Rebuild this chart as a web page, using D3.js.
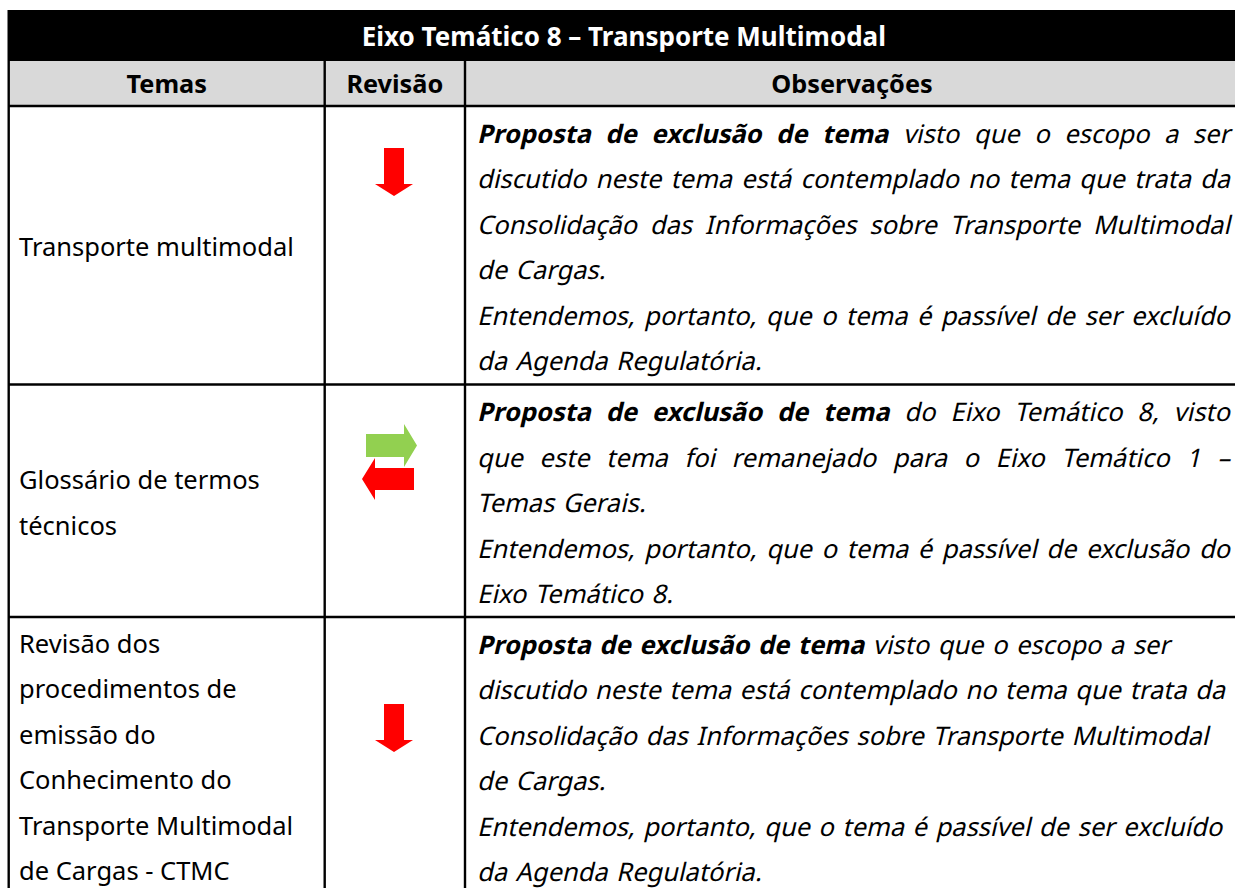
<!DOCTYPE html>
<html><head><meta charset="utf-8">
<script src="https://cdn.jsdelivr.net/npm/d3@7"></script>
<style>body{margin:0;background:#fff}svg{display:block}</style>
</head><body>
<script>
// ---------- data ----------
const title = "Eixo Temático 8 – Transporte Multimodal";
const headers = ["Temas", "Revisão", "Observações"];
const temas = [
  ["Transporte multimodal"],
  ["Glossário de termos", "técnicos"],
  ["Revisão dos", "procedimentos de", "emissão do", "Conhecimento do", "Transporte Multimodal", "de Cargas - CTMC"]
];
const revisao = ["down", "swap", "down"];
const justified = [true, true, false];
const observacoes = [
  [
    ["**Proposta de exclusão de tema** visto que o escopo a ser",
     "discutido neste tema está contemplado no tema que trata da",
     "Consolidação das Informações sobre Transporte Multimodal",
     "de Cargas."],
    ["Entendemos, portanto, que o tema é passível de ser excluído",
     "da Agenda Regulatória."]
  ],
  [
    ["**Proposta de exclusão de tema** do Eixo Temático 8, visto",
     "que este tema foi remanejado para o Eixo Temático 1 –",
     "Temas Gerais."],
    ["Entendemos, portanto, que o tema é passível de exclusão do",
     "Eixo Temático 8."]
  ],
  [
    ["**Proposta de exclusão de tema** visto que o escopo a ser",
     "discutido neste tema está contemplado no tema que trata da",
     "Consolidação das Informações sobre Transporte Multimodal",
     "de Cargas."],
    ["Entendemos, portanto, que o tema é passível de ser excluído",
     "da Agenda Regulatória."]
  ]
];

// ---------- layout ----------
const W = 1235, H = 888;
const FONT = "'Noto Sans', 'Open Sans', sans-serif";
const FS = 25.5, FS_TITLE = 26, FS_HDR = 25.3;
const LINE = 45.5;
const colEdges = [8.7, 324.7, 465, 1239];
const titleTop = 10, headTop = 61, bodyTop = 106;
const rowEdges = [106, 384.5, 617, 894];
const obsLeft = 477, obsRight = 1230;
const stroke = 2.4;
const extraSpace = 1.9;

const svg = d3.select("body").append("svg").attr("width", W).attr("height", H)
  .style("font-family", FONT);

const colScale = d3.scaleOrdinal().domain(headers).range(colEdges.slice(0, 3));
const colEnd = d3.scaleOrdinal().domain(headers).range(colEdges.slice(1));
const rowTop = d3.scaleOrdinal().domain(d3.range(3)).range(rowEdges.slice(0, 3));
const rowBot = d3.scaleOrdinal().domain(d3.range(3)).range(rowEdges.slice(1));
const lineY = d3.scaleLinear().domain([0, 1]).range([0, LINE]);

// backgrounds
svg.append("rect").attr("x", colEdges[0]).attr("y", titleTop)
  .attr("width", W - colEdges[0]).attr("height", headTop - titleTop).attr("fill", "#000");
svg.append("rect").attr("x", colEdges[0]).attr("y", headTop)
  .attr("width", W - colEdges[0]).attr("height", bodyTop - headTop).attr("fill", "#d9d9d9");

// title
svg.append("text").attr("x", (colEdges[0] + colEdges[3]) / 2).attr("y", 45.5)
  .attr("text-anchor", "middle").attr("fill", "#fff").attr("font-weight", "bold")
  .attr("font-size", FS_TITLE).text(title);

// headers
svg.selectAll("text.hdr").data(headers).join("text").attr("class", "hdr")
  .attr("x", d => (colScale(d) + colEnd(d)) / 2).attr("y", 93)
  .attr("text-anchor", "middle").attr("font-weight", "bold").attr("font-size", FS_HDR)
  .attr("fill", "#000").text(d => d);

// grid lines
const g = svg.append("g").attr("stroke", "#000").attr("stroke-width", stroke);
g.append("line").attr("x1", colEdges[0]).attr("x2", colEdges[0]).attr("y1", titleTop).attr("y2", H);
[colEdges[1], colEdges[2]].forEach(x =>
  g.append("line").attr("x1", x).attr("x2", x).attr("y1", headTop).attr("y2", H));
rowEdges.forEach(y =>
  g.append("line").attr("x1", colEdges[0]).attr("x2", W).attr("y1", y).attr("y2", y));

// temas
temas.forEach((lines, r) => {
  const c = (rowTop(r) + rowBot(r)) / 2;
  const y0 = c + 11 - (lines.length - 1) * LINE / 2;
  lines.forEach((t, i) => {
    svg.append("text").attr("x", 19).attr("y", y0 + lineY(i))
      .attr("font-size", FS).attr("fill", "#000").text(t);
  });
});

// observações
function parse(line) {
  const segs = [];
  const re = /\*\*(.+?)\*\*/g;
  let last = 0, m;
  while ((m = re.exec(line))) {
    if (m.index > last) segs.push({ t: line.slice(last, m.index), b: false });
    segs.push({ t: m[1], b: true });
    last = re.lastIndex;
  }
  if (last < line.length) segs.push({ t: line.slice(last), b: false });
  return segs;
}
observacoes.forEach((paras, r) => {
  let li = 0;
  paras.forEach(para => {
    para.forEach((line, k) => {
      const y = rowTop(r) + 36.5 + lineY(li);
      const txt = svg.append("text")
        .attr("transform", `translate(${obsLeft},${y}) skewX(-13)`)
        .attr("x", 0).attr("y", 0).attr("font-size", FS).attr("fill", "#000")
        .attr("xml:space", "preserve");
      parse(line).forEach(s => {
        txt.append("tspan").attr("font-weight", s.b ? "bold" : "normal").text(s.t);
      });
      const isLast = k === para.length - 1;
      if (justified[r] && !isLast) {
        const L = txt.node().getComputedTextLength();
        const n = (line.replace(/\*\*/g, "").match(/ /g) || []).length;
        if (n > 0) txt.style("word-spacing", ((obsRight - obsLeft - L) / n) + "px");
      } else {
        txt.style("word-spacing", extraSpace + "px");
      }
      li++;
    });
  });
});

// arrows
const RED = "#ff0000", GREEN = "#92d050";
function downArrow(cx, top) {
  const p = d3.path();
  p.moveTo(cx - 10, top); p.lineTo(cx + 10, top); p.lineTo(cx + 10, top + 36);
  p.lineTo(cx + 19, top + 36); p.lineTo(cx, top + 48); p.lineTo(cx - 19, top + 36);
  p.lineTo(cx - 10, top + 36); p.closePath();
  return p.toString();
}
function rightArrow(x0, y0) {
  const p = d3.path();
  p.moveTo(x0, y0); p.lineTo(x0 + 38, y0); p.lineTo(x0 + 38, y0 - 10);
  p.lineTo(x0 + 51, y0 + 11.5); p.lineTo(x0 + 38, y0 + 33); p.lineTo(x0 + 38, y0 + 23);
  p.lineTo(x0, y0 + 23); p.closePath();
  return p.toString();
}
function leftArrow(x1, y0) {
  const p = d3.path();
  p.moveTo(x1, y0); p.lineTo(x1 - 39, y0); p.lineTo(x1 - 39, y0 - 10);
  p.lineTo(x1 - 52, y0 + 11); p.lineTo(x1 - 39, y0 + 32); p.lineTo(x1 - 39, y0 + 22);
  p.lineTo(x1, y0 + 22); p.closePath();
  return p.toString();
}
const arrowTop = [42, 0, 87];
revisao.forEach((type, r) => {
  const cx = 394;
  if (type === "down") {
    svg.append("path").attr("d", downArrow(cx, rowTop(r) + arrowTop[r])).attr("fill", RED);
  } else {
    svg.append("path").attr("d", rightArrow(366, 434)).attr("fill", GREEN);
    svg.append("path").attr("d", leftArrow(414, 468)).attr("fill", RED);
  }
});
</script>
</body></html>
